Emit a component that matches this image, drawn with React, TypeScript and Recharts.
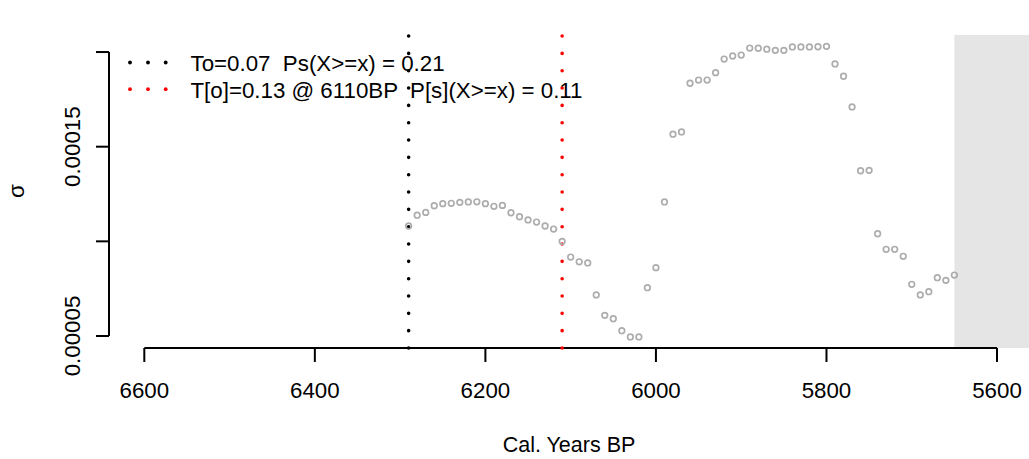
import React from 'react';
import { ComposedChart, Scatter, XAxis, YAxis, ReferenceLine, ReferenceArea } from 'recharts';

// calibrated years BP, one point every decade
const years = [
  6290, 6280, 6270, 6260, 6250, 6240, 6230, 6220, 6210, 6200,
  6190, 6180, 6170, 6160, 6150, 6140, 6130, 6120, 6110, 6100,
  6090, 6080, 6070, 6060, 6050, 6040, 6030, 6020, 6010, 6000,
  5990, 5980, 5970, 5960, 5950, 5940, 5930, 5920, 5910, 5900,
  5890, 5880, 5870, 5860, 5850, 5840, 5830, 5820, 5810, 5800,
  5790, 5780, 5770, 5760, 5750, 5740, 5730, 5720, 5710, 5700,
  5690, 5680, 5670, 5660, 5650,
];

const sigma = [
  1.081e-4, 1.138e-4, 1.153e-4, 1.188e-4, 1.199e-4, 1.201e-4, 1.206e-4, 1.208e-4, 1.209e-4, 1.199e-4,
  1.185e-4, 1.19e-4, 1.151e-4, 1.13e-4, 1.113e-4, 1.102e-4, 1.081e-4, 1.065e-4, 1.0e-4, 9.17e-5,
  8.92e-5, 8.86e-5, 7.17e-5, 6.09e-5, 5.91e-5, 5.28e-5, 4.95e-5, 4.95e-5, 7.55e-5, 8.61e-5,
  1.208e-4, 1.566e-4, 1.578e-4, 1.835e-4, 1.852e-4, 1.852e-4, 1.891e-4, 1.963e-4, 1.979e-4, 1.984e-4,
  2.021e-4, 2.02e-4, 2.015e-4, 2.009e-4, 2.009e-4, 2.027e-4, 2.027e-4, 2.027e-4, 2.028e-4, 2.03e-4,
  1.937e-4, 1.872e-4, 1.71e-4, 1.373e-4, 1.375e-4, 1.04e-4, 9.58e-5, 9.58e-5, 9.21e-5, 7.73e-5,
  7.17e-5, 7.34e-5, 8.08e-5, 7.94e-5, 8.22e-5,
];

const xTicks = [6600, 6400, 6200, 6000, 5800, 5600];
const yTicks = [0.00005, 0.0001, 0.00015, 0.0002];
const yLabelled = [0.00005, 0.00015];

const onsetBlack = 6290;
const onsetRed = 6110;
const shadeFrom = 5650;

const legendRows = [
  { label: 'To=0.07  Ps(X>=x) = 0.21', color: '#000000' },
  { label: 'T[o]=0.13 @ 6110BP  P[s](X>=x) = 0.11', color: '#ff0000' },
];

const xDomain: [number, number] = [5562.5, 6641.4];
const yDomain: [number, number] = [0.00004366, 0.000209];

const points = years.map((year, i) => ({ year, s: sigma[i] }));

const FONT = "'Liberation Sans', Arial, Helvetica, sans-serif";
const FS = 22.3;

const XTick = (props: any) => {
  const { x, y, payload } = props;
  return (
    <g>
      <line x1={x} x2={x} y1={y} y2={y + 14} stroke="#000" strokeWidth={2} />
      <text x={x} y={y + 50} textAnchor="middle" fontFamily={FONT} fontSize={FS} fill="#000">
        {payload.value}
      </text>
    </g>
  );
};

const YTick = (props: any) => {
  const { x, y, payload } = props;
  const show = yLabelled.some(v => Math.abs(v - payload.value) < 1e-9);
  return (
    <g>
      <line x1={x - 13} x2={x} y1={y} y2={y} stroke="#000" strokeWidth={2} />
      {show && (
        <text
          x={x - 29}
          y={y}
          transform={`rotate(-90, ${x - 29}, ${y})`}
          textAnchor="middle"
          fontFamily={FONT}
          fontSize={FS}
          fill="#000"
        >
          {payload.value.toFixed(5)}
        </text>
      )}
    </g>
  );
};

const Ring = (props: any) => {
  const { cx, cy } = props;
  if (cx == null || cy == null) return null;
  return <circle cx={cx} cy={cy} r={2.8} fill="none" stroke="#adadad" strokeWidth={1.7} />;
};

export default function App() {
  return (
    <div style={{ position: 'absolute', left: 0, top: 0, width: 1029, height: 459, background: '#fff' }}>
      <ComposedChart width={1029} height={459} margin={{ top: 35, right: 0, bottom: 0, left: 0 }}>
        <XAxis
          dataKey="year"
          type="number"
          domain={xDomain}
          allowDataOverflow
          reversed
          ticks={xTicks}
          interval={0}
          height={111}
          axisLine={false}
          tickLine={false}
          tickSize={0}
          tickMargin={0}
          tick={<XTick />}
        />
        <YAxis
          dataKey="s"
          type="number"
          domain={yDomain}
          allowDataOverflow
          ticks={yTicks}
          interval={0}
          width={109}
          axisLine={false}
          tickLine={false}
          tickSize={0}
          tickMargin={0}
          tick={<YTick />}
        />
        <ReferenceArea
          x1={shadeFrom}
          x2={xDomain[0]}
          y1={yDomain[0]}
          y2={yDomain[1]}
          fill="#e5e5e5"
          fillOpacity={1}
          stroke="none"
          ifOverflow="visible"
        />
        <ReferenceLine
          segment={[{ x: xTicks[0], y: yDomain[0] }, { x: xTicks[xTicks.length - 1], y: yDomain[0] }]}
          stroke="#000"
          strokeWidth={2}
          ifOverflow="visible"
        />
        <ReferenceLine
          segment={[{ x: xDomain[1], y: yTicks[0] }, { x: xDomain[1], y: yTicks[yTicks.length - 1] }]}
          stroke="#000"
          strokeWidth={2}
          ifOverflow="visible"
        />
        <Scatter data={points} dataKey="s" shape={<Ring />} isAnimationActive={false} />
        <ReferenceLine
          x={onsetBlack}
          stroke="#000"
          strokeWidth={3.6}
          strokeDasharray="0 17.33"
          strokeLinecap="round"
        />
        <ReferenceLine
          x={onsetRed}
          stroke="#ff0000"
          strokeWidth={3.6}
          strokeDasharray="0 17.33"
          strokeLinecap="round"
        />
      </ComposedChart>
      <svg
        width={1029}
        height={459}
        style={{ position: 'absolute', left: 0, top: 0, pointerEvents: 'none' }}
      >
        {legendRows.map((row, i) => {
          const cy = 62.5 + i * 26.7;
          return (
            <g key={row.label}>
              {[130, 148, 165.7].map(dx => (
                <circle key={dx} cx={dx} cy={cy} r={1.9} fill={row.color} />
              ))}
              <text
                x={190.5}
                y={cy + 8.7}
                fontFamily={FONT}
                fontSize={FS}
                fill="#000"
                style={{ whiteSpace: 'pre' }}
              >
                {row.label}
              </text>
            </g>
          );
        })}
        <text x={569} y={451.5} textAnchor="middle" fontFamily={FONT} fontSize={21.5} fill="#000">
          Cal. Years BP
        </text>
        <text
          x={24}
          y={191}
          transform="rotate(-90, 24, 191)"
          textAnchor="middle"
          fontFamily={FONT}
          fontSize={FS}
          fill="#000"
        >
          σ
        </text>
      </svg>
    </div>
  );
}
